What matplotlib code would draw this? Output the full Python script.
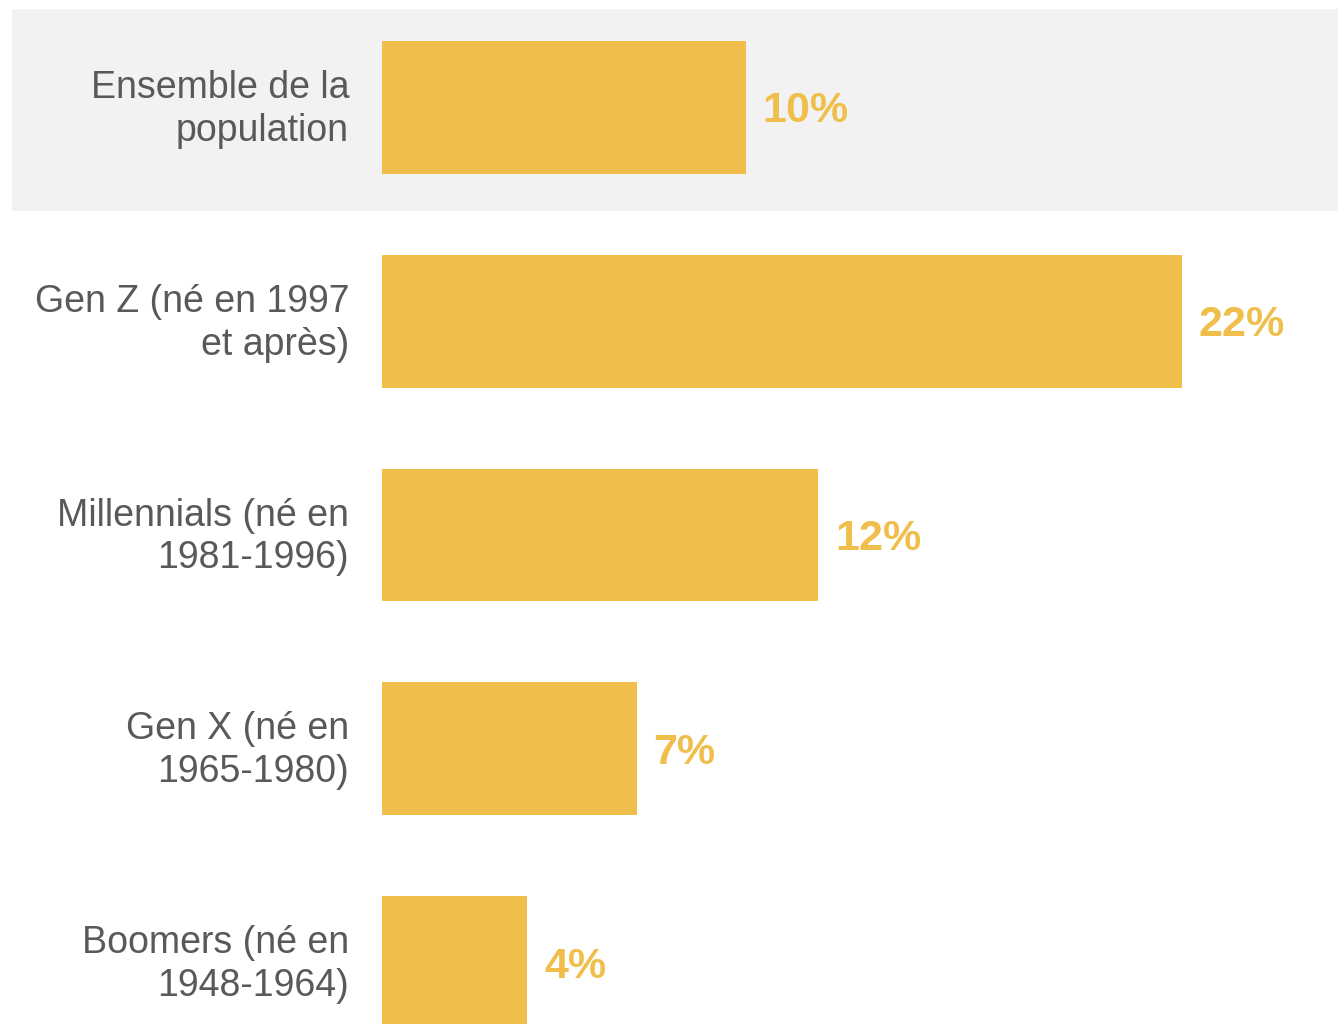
import matplotlib.pyplot as plt
from matplotlib.patches import Rectangle

categories = [
    "Ensemble de la\npopulation",
    "Gen Z (né en 1997\net après)",
    "Millennials (né en\n1981-1996)",
    "Gen X (né en\n1965-1980)",
    "Boomers (né en\n1948-1964)",
]
values = [10, 22, 12, 7, 4]
value_labels = ["10%", "22%", "12%", "7%", "4%"]

gold = "#F0BE4A"
grey_bg = "#F2F2F2"
text_grey = "#595959"

plt.rcParams['font.family'] = ['Liberation Sans', 'DejaVu Sans']

fig = plt.figure(figsize=(13.38, 10.24), dpi=100)
ax = fig.add_axes([0, 0, 1, 1])

# pixel mapping: x=0 at 382px, 1% ~ 36.36px; rows every 213.75px
px_per_unit = 36.36
row_px = 213.75
ax.set_xlim(-382 / px_per_unit, (1338 - 382) / px_per_unit)
ax.set_ylim((1024 - 107.5) / row_px, -107.5 / row_px)
ax.axis('off')

# grey band behind the first row
ax.add_patch(Rectangle((-370 / px_per_unit, -0.46), (1338 - 12) / px_per_unit, 0.945,
                       facecolor=grey_bg, edgecolor='none', zorder=0))

ypos = list(range(len(categories)))
ax.barh(ypos, values, height=0.622, color=gold, zorder=2)

for y, v, lab, cat in zip(ypos, values, value_labels, categories):
    ax.text(v + 17 / px_per_unit, y + 4 / row_px, lab, ha='left', va='center',
            fontsize=31, fontweight='bold', color=gold, zorder=3)
    ax.text(-33 / px_per_unit, y + 2 / row_px, cat, ha='right', va='center',
            fontsize=27, color=text_grey, linespacing=1.24, zorder=3)

fig.savefig("out.png", dpi=100)
